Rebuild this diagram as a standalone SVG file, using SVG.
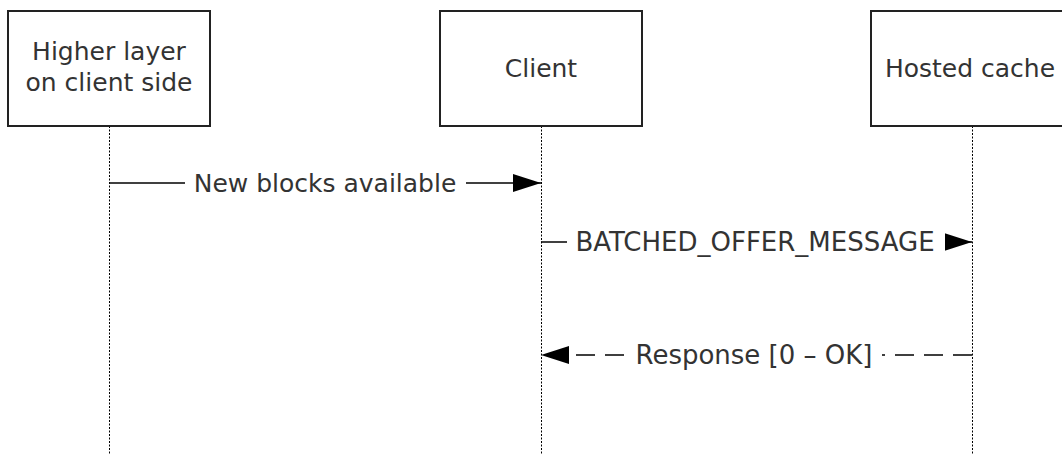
<svg xmlns="http://www.w3.org/2000/svg" width="1062" height="455" viewBox="0 0 1062 455">
<defs>
<marker id="ah" markerWidth="28" markerHeight="18" refX="28" refY="9" orient="auto" markerUnits="userSpaceOnUse"><path d="M0,0 L28,9 L0,18 Z" fill="#000"/></marker>
</defs>
<style>
.box{fill:#fff;stroke:#222;stroke-width:2}
.life{stroke:#000;stroke-width:1;stroke-dasharray:2 1.5;fill:none}
.t{font-family:"DejaVu Sans",Verdana,sans-serif;font-size:25px;fill:#333;text-anchor:middle}
.w{font-size:26px}
.msg{stroke:#000;stroke-width:1.5;fill:none}
.dash{stroke-dasharray:19 10}
.bg{fill:#fff}
</style>
<rect width="1062" height="455" fill="#fff"/>
<g id="lifelines">
<line class="life" x1="109.5" y1="126" x2="109.5" y2="455"/>
<line class="life" x1="541.5" y1="126" x2="541.5" y2="455"/>
<line class="life" x1="972.5" y1="126" x2="972.5" y2="455"/>
</g>
<g id="node-higher-layer">
<rect class="box" x="8" y="11" width="202" height="115"/>
<text class="t" x="109" y="60">Higher layer</text>
<text class="t" x="109" y="91">on client side</text>
</g>
<g id="node-client">
<rect class="box" x="440" y="11" width="202" height="115"/>
<text class="t" x="541" y="77">Client</text>
</g>
<g id="node-hosted-cache">
<rect class="box" x="871" y="11" width="202" height="115"/>
<text class="t" x="970" y="77">Hosted cache</text>
</g>
<g id="connectors">
<g id="msg-new-blocks">
<line class="msg" x1="109" y1="183" x2="541" y2="183" marker-end="url(#ah)"/>
<rect class="bg" x="185" y="169" width="281" height="28"/>
<text class="t" x="325" y="192">New blocks available</text>
</g>
<g id="msg-batched-offer">
<line class="msg" x1="541" y1="242" x2="972" y2="242" marker-end="url(#ah)"/>
<rect class="bg" x="567" y="228" width="378" height="28"/>
<text class="t w" x="755" y="251">BATCHED_OFFER_MESSAGE</text>
</g>
<g id="msg-response">
<line class="msg dash" x1="972" y1="355" x2="541" y2="355" marker-end="url(#ah)"/>
<rect class="bg" x="628" y="341" width="254" height="28"/>
<text class="t w" x="754" y="364">Response [0 – OK]</text>
</g>
</g>
</svg>
